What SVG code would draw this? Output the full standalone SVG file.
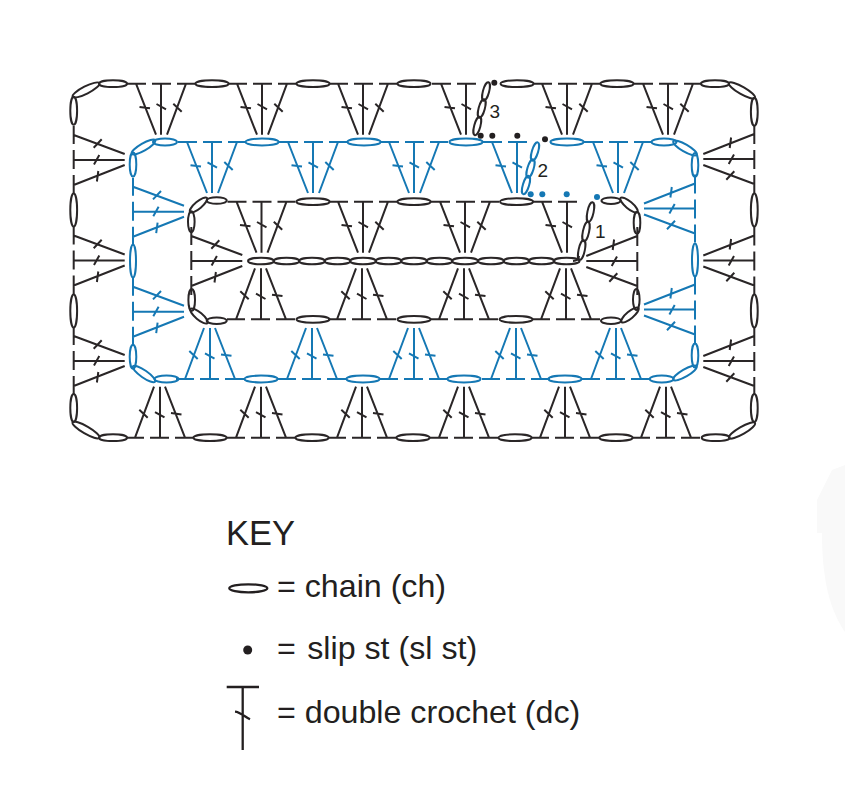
<svg xmlns="http://www.w3.org/2000/svg" width="845" height="791" viewBox="0 0 845 791">
<style>
text{font-family:"Liberation Sans",Arial,sans-serif;fill:#231f20}
.k{stroke:#2a2627}
.b{stroke:#1578b4}
.r{fill:none;stroke-width:2;stroke-linecap:butt}
.n{font-size:19px}
.l{font-size:32.2px}
</style>
<defs>
<g id="st1"><path d="M-34 0H-15M-25 0L-5 51M-21.5 23.2L-11 24.6"/></g>
<g id="st2"><path d="M-9 0H10M0 0V51M-4.5 20.3L5 25.6"/></g>
<g id="st3"><path d="M16 0H34M25 0L6 51M12.3 20L20.7 28"/></g>
<g id="dc"><use href="#st1"/><use href="#st2"/><use href="#st3"/></g>
<g id="dc2"><use href="#st1"/><use href="#st2"/></g>
<ellipse id="cl" rx="16.5" ry="3.4"/>
<ellipse id="cs" rx="14" ry="3.4"/>
</defs>
<path id="faint" d="M845 465L832 470L817 500V533H822C822 580 830 610 845 632Z" fill="#f9f9f9"/>
<g id="round-3" class="r k">
<use href="#dc" transform="translate(161 83.7)"/>
<use href="#dc" transform="translate(262 83.7)"/>
<use href="#dc" transform="translate(363 83.7)"/>
<use href="#dc2" transform="translate(466 83.7)"/>
<use href="#dc" transform="translate(567 83.7)"/>
<use href="#dc" transform="translate(668 83.7)"/>
<use href="#dc" transform="translate(160 437.7) rotate(180)"/>
<use href="#dc" transform="translate(261 437.7) rotate(180)"/>
<use href="#dc" transform="translate(362 437.7) rotate(180)"/>
<use href="#dc" transform="translate(464 437.7) rotate(180)"/>
<use href="#dc" transform="translate(565 437.7) rotate(180)"/>
<use href="#dc" transform="translate(666 437.7) rotate(180)"/>
<use href="#dc" transform="translate(73.7 160) rotate(-90)"/>
<use href="#dc" transform="translate(73.7 260.5) rotate(-90)"/>
<use href="#dc" transform="translate(73.7 361) rotate(-90)"/>
<use href="#dc" transform="translate(754.3 159) rotate(90)"/>
<use href="#dc" transform="translate(754.3 260.5) rotate(90)"/>
<use href="#dc" transform="translate(754.3 361) rotate(90)"/>
<use href="#cs" transform="translate(113 83.7)"/>
<use href="#cl" transform="translate(212 83.7)"/>
<use href="#cl" transform="translate(313 83.7)"/>
<use href="#cl" transform="translate(414 83.7)"/>
<use href="#cl" transform="translate(517 83.7)"/>
<use href="#cl" transform="translate(617 83.7)"/>
<use href="#cs" transform="translate(715 83.7)"/>
<use href="#cs" transform="translate(113 437.7)"/>
<use href="#cl" transform="translate(210 437.7)"/>
<use href="#cl" transform="translate(312 437.7)"/>
<use href="#cl" transform="translate(413 437.7)"/>
<use href="#cl" transform="translate(515 437.7)"/>
<use href="#cl" transform="translate(616 437.7)"/>
<use href="#cs" transform="translate(715.7 437.7)"/>
<use href="#cs" transform="translate(73.7 110.7) rotate(90)"/>
<use href="#cl" transform="translate(73.7 210) rotate(90)"/>
<use href="#cl" transform="translate(73.7 311) rotate(90)"/>
<use href="#cs" transform="translate(73.7 408) rotate(90)"/>
<use href="#cs" transform="translate(754.3 111.7) rotate(90)"/>
<use href="#cl" transform="translate(754.3 210) rotate(90)"/>
<use href="#cl" transform="translate(754.3 311) rotate(90)"/>
<use href="#cs" transform="translate(754.3 408) rotate(90)"/>
<ellipse rx="15" ry="3.7" transform="translate(86 90) rotate(-27)"/>
<ellipse rx="15.5" ry="3.7" transform="translate(86 430) rotate(30)"/>
<ellipse rx="15" ry="3.7" transform="translate(742 90.5) rotate(30)"/>
<ellipse rx="15" ry="3.7" transform="translate(742 430.5) rotate(-30)"/>
<ellipse rx="9.5" ry="3.1" transform="translate(477.3 126) rotate(-75)"/>
<ellipse rx="9.5" ry="3.1" transform="translate(481.7 108.5) rotate(-75)"/>
<ellipse rx="9.5" ry="3.1" transform="translate(486 91.5) rotate(-75)"/>
</g>
<g id="round-2" class="r b">
<use href="#dc" transform="translate(212 142)"/>
<use href="#dc" transform="translate(313 142)"/>
<use href="#dc" transform="translate(414 142)"/>
<use href="#dc2" transform="translate(517 142)"/>
<use href="#dc" transform="translate(618 142)"/>
<use href="#dc" transform="translate(210 379) rotate(180)"/>
<use href="#dc" transform="translate(312 379) rotate(180)"/>
<use href="#dc" transform="translate(414 379) rotate(180)"/>
<use href="#dc" transform="translate(516 379) rotate(180)"/>
<use href="#dc" transform="translate(616 379) rotate(180)"/>
<use href="#dc" transform="translate(133 211.7) rotate(-90)"/>
<use href="#dc" transform="translate(133 311.7) rotate(-90)"/>
<use href="#dc" transform="translate(695 208.5) rotate(90)"/>
<use href="#dc" transform="translate(695 309.5) rotate(90)"/>
<ellipse rx="12" ry="3.5" transform="translate(165 142)"/>
<use href="#cl" transform="translate(262 142)"/>
<use href="#cl" transform="translate(364 142)"/>
<use href="#cl" transform="translate(466 142)"/>
<use href="#cl" transform="translate(567 142)"/>
<ellipse rx="12.5" ry="3.5" transform="translate(664 142)"/>
<ellipse rx="12" ry="3.5" transform="translate(166.5 379)"/>
<use href="#cl" transform="translate(261 379)"/>
<use href="#cl" transform="translate(363 379)"/>
<use href="#cl" transform="translate(464 379)"/>
<use href="#cl" transform="translate(565 379)"/>
<ellipse rx="12" ry="3.5" transform="translate(661.7 379)"/>
<ellipse rx="12" ry="3.3" transform="translate(133 164.5) rotate(90)"/>
<ellipse rx="16.5" ry="3" transform="translate(133 261) rotate(90)"/>
<ellipse rx="12" ry="3.3" transform="translate(133 356.7) rotate(90)"/>
<ellipse rx="12" ry="3.3" transform="translate(695 165) rotate(90)"/>
<ellipse rx="16.5" ry="3" transform="translate(695 260) rotate(90)"/>
<ellipse rx="12" ry="3.3" transform="translate(695 355.5) rotate(90)"/>
<ellipse rx="13.5" ry="3.6" transform="translate(143.5 147) rotate(-30)"/>
<ellipse rx="13.5" ry="3.6" transform="translate(144 374) rotate(35)"/>
<ellipse rx="13.5" ry="3.6" transform="translate(685 148) rotate(30)"/>
<ellipse rx="13.5" ry="3.6" transform="translate(685 373) rotate(-30)"/>
<ellipse rx="9.5" ry="3.1" transform="translate(526 185) rotate(-73)"/>
<ellipse rx="9.5" ry="3.1" transform="translate(530.5 168.5) rotate(-73)"/>
<ellipse rx="9.5" ry="3.1" transform="translate(535 151.5) rotate(-73)"/>
</g>
<g id="round-1" class="r k">
<use href="#dc" transform="translate(261.5 201.7)"/>
<use href="#dc" transform="translate(363 201.7)"/>
<use href="#dc" transform="translate(465 201.7)"/>
<use href="#dc2" transform="translate(567 201.7)"/>
<use href="#dc" transform="translate(261 319.3) rotate(180)"/>
<use href="#dc" transform="translate(362 319.3) rotate(180)"/>
<use href="#dc" transform="translate(464 319.3) rotate(180)"/>
<use href="#dc" transform="translate(566 319.3) rotate(180)"/>
<use href="#dc" transform="translate(191.3 261) rotate(-90)"/>
<use href="#dc" transform="translate(637.3 261) rotate(90)"/>
<ellipse rx="10" ry="3.3" transform="translate(216.7 200.5)"/>
<use href="#cl" transform="translate(313 201.7)"/>
<use href="#cl" transform="translate(414 201.7)"/>
<use href="#cl" transform="translate(516.5 201.7)"/>
<ellipse rx="9.5" ry="3.3" transform="translate(611 200.7)"/>
<ellipse rx="10" ry="3.3" transform="translate(216.7 320.7)"/>
<use href="#cl" transform="translate(313 319.3)"/>
<use href="#cl" transform="translate(414 319.3)"/>
<use href="#cl" transform="translate(516 319.3)"/>
<ellipse rx="10" ry="3.3" transform="translate(611 320.7)"/>
<ellipse rx="10.5" ry="3.3" transform="translate(191.3 221.7) rotate(90)"/>
<ellipse rx="11" ry="3.3" transform="translate(191.7 300) rotate(90)"/>
<ellipse rx="11" ry="3.3" transform="translate(637 222.7) rotate(90)"/>
<ellipse rx="10.5" ry="3.3" transform="translate(636.3 299.5) rotate(90)"/>
<ellipse rx="11" ry="3.5" transform="translate(198.5 205) rotate(-40)"/>
<ellipse rx="11" ry="3.5" transform="translate(199 316) rotate(40)"/>
<ellipse rx="11" ry="3.5" transform="translate(629 205) rotate(40)"/>
<ellipse rx="11" ry="3.5" transform="translate(630 315) rotate(-40)"/>
<ellipse rx="10" ry="3.1" transform="translate(581.7 250) rotate(-78)"/>
<ellipse rx="10" ry="3.1" transform="translate(586 231.5) rotate(-78)"/>
<ellipse rx="10" ry="3.1" transform="translate(590.5 212) rotate(-78)"/>
<path d="M579 256Q578.5 261 573 261"/>
<ellipse cx="261" cy="261" rx="13" ry="3.3"/>
<ellipse cx="286.5" cy="261" rx="13" ry="3.3"/>
<ellipse cx="312" cy="261" rx="13" ry="3.3"/>
<ellipse cx="337.5" cy="261" rx="13" ry="3.3"/>
<ellipse cx="363" cy="261" rx="13" ry="3.3"/>
<ellipse cx="388.5" cy="261" rx="13" ry="3.3"/>
<ellipse cx="414" cy="261" rx="13" ry="3.3"/>
<ellipse cx="439.5" cy="261" rx="13" ry="3.3"/>
<ellipse cx="465" cy="261" rx="13" ry="3.3"/>
<ellipse cx="491" cy="261" rx="13" ry="3.3"/>
<ellipse cx="516.5" cy="261" rx="13" ry="3.3"/>
<ellipse cx="541.5" cy="261" rx="13" ry="3.3"/>
<ellipse cx="566.5" cy="261" rx="13" ry="3.3"/>
</g>
<g id="slip-stitches">
<g fill="#231f20">
<circle cx="494.3" cy="82.7" r="3"/><circle cx="480.7" cy="135.7" r="3"/><circle cx="492.3" cy="135.7" r="3"/><circle cx="517.3" cy="135.7" r="3"/><circle cx="545" cy="139.3" r="3"/>
</g>
<g fill="#1578b4">
<circle cx="530.7" cy="194.3" r="3"/><circle cx="542.3" cy="194.3" r="3"/><circle cx="566.7" cy="194.3" r="3"/><circle cx="597" cy="197" r="3"/>
</g>
</g>
<g id="round-labels">
<text class="n" x="595" y="238.3">1</text>
<text class="n" x="537.5" y="176.7">2</text>
<text class="n" x="489.5" y="118.3">3</text>
</g>
<g id="key">
<text x="226" y="545" font-size="34.5">KEY</text>
<g id="key-chain"><ellipse cx="248.3" cy="588.3" rx="19" ry="4" fill="none" stroke="#231f20" stroke-width="2.3"/>
<text class="l" x="277" y="596.7">= chain (ch)</text></g>
<g id="key-slip"><circle cx="247.7" cy="650" r="4.5" fill="#231f20"/>
<text class="l" x="277" y="659.3">= <tspan dx="2.5">slip st (sl st)</tspan></text></g>
<g id="key-dc"><path d="M226.7 687H259M242.7 687V750M235 711.7C240 712 245 717 250 719.3" fill="none" stroke="#231f20" stroke-width="2.3"/>
<text class="l" x="277" y="723.3">= double crochet (dc)</text></g>
</g>
</svg>
